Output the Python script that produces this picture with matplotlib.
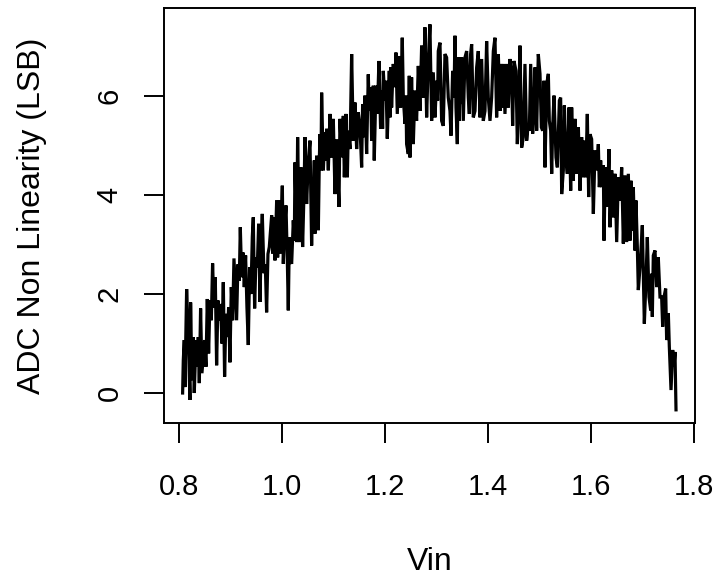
import matplotlib
matplotlib.use("Agg")
import matplotlib.pyplot as plt

plt.rcParams['font.family'] = ['Liberation Sans', 'DejaVu Sans']

# Vin values (V), left to right
vin = [
    0.8071, 0.8084, 0.8103, 0.8116, 0.8149, 0.8181, 0.8213, 0.8226, 0.8252, 0.8278,
    0.8297, 0.8330, 0.8356, 0.8375, 0.8395, 0.8420, 0.8446, 0.8472, 0.8498, 0.8524,
    0.8550, 0.8576, 0.8602, 0.8628, 0.8653, 0.8679, 0.8705, 0.8731, 0.8757, 0.8783,
    0.8809, 0.8835, 0.8861, 0.8886, 0.8912, 0.8938, 0.8964, 0.8990, 0.9016, 0.9042,
    0.9068, 0.9094, 0.9119, 0.9145, 0.9171, 0.9191, 0.9217, 0.9243, 0.9268, 0.9294,
    0.9320, 0.9346, 0.9372, 0.9398, 0.9424, 0.9443, 0.9469, 0.9495, 0.9521, 0.9547,
    0.9573, 0.9598, 0.9618, 0.9650, 0.9676, 0.9702, 0.9728, 0.9754,
    0.9800, 0.9819, 0.9845, 0.9864, 0.9897, 0.9916, 0.9935, 0.9961, 0.9987, 1.0007,
    1.0026, 1.0052, 1.0078, 1.0104, 1.0123, 1.0143, 1.0168, 1.0188, 1.0220, 1.0240,
    1.0253, 1.0285, 1.0304, 1.0337, 1.0369, 1.0401, 1.0427, 1.0447, 1.0479, 1.0512,
    1.0544, 1.0576, 1.0596, 1.0609, 1.0628, 1.0641, 1.0673, 1.0706, 1.0725, 1.0738,
    1.0757, 1.0770, 1.0803, 1.0835, 1.0855, 1.0867, 1.0900, 1.0932, 1.0965, 1.0997,
    1.1029, 1.1062, 1.1107, 1.1126, 1.1159, 1.1191, 1.1211, 1.1243, 1.1269, 1.1288,
    1.1321, 1.1353, 1.1385, 1.1418, 1.1450, 1.1482,
    1.1514, 1.1547, 1.1566, 1.1592, 1.1611, 1.1644, 1.1676, 1.1695, 1.1721, 1.1741,
    1.1773, 1.1792, 1.1825, 1.1851, 1.1883, 1.1915, 1.1935, 1.1954, 1.1967, 1.2000,
    1.2019, 1.2045, 1.2084, 1.2097, 1.2110, 1.2129, 1.2161, 1.2194, 1.2213, 1.2239,
    1.2278, 1.2304, 1.2336, 1.2356, 1.2388, 1.2407, 1.2420, 1.2453, 1.2472, 1.2485,
    1.2517, 1.2550, 1.2582, 1.2614, 1.2647, 1.2679, 1.2712, 1.2744, 1.2776, 1.2809,
    1.2841, 1.2873, 1.2906, 1.2938, 1.2971, 1.3003, 1.3022, 1.3035, 1.3068, 1.3100,
    1.3132, 1.3165, 1.3197, 1.3229,
    1.3262, 1.3282, 1.3314, 1.3340, 1.3359, 1.3379, 1.3405, 1.3424, 1.3443, 1.3456,
    1.3476, 1.3489, 1.3521, 1.3553, 1.3586, 1.3618, 1.3638, 1.3663, 1.3683, 1.3715,
    1.3748, 1.3780, 1.3812, 1.3845, 1.3877, 1.3909, 1.3942, 1.3974, 1.4006, 1.4039,
    1.4071, 1.4104, 1.4136, 1.4168, 1.4201, 1.4233, 1.4246, 1.4265, 1.4298, 1.4330,
    1.4362, 1.4395, 1.4427, 1.4460, 1.4479, 1.4505, 1.4544, 1.4570, 1.4595, 1.4621,
    1.4654, 1.4686, 1.4718, 1.4751, 1.4783, 1.4803, 1.4829, 1.4867, 1.4893, 1.4913,
    1.4945, 1.4977,
    1.5010, 1.5036, 1.5062, 1.5088, 1.5107, 1.5140, 1.5172, 1.5191, 1.5217, 1.5237,
    1.5256, 1.5282, 1.5321, 1.5347, 1.5386, 1.5411, 1.5431, 1.5463, 1.5483, 1.5515,
    1.5541, 1.5573, 1.5606, 1.5625, 1.5657, 1.5690, 1.5722, 1.5755, 1.5787, 1.5819,
    1.5839, 1.5865, 1.5897, 1.5929, 1.5955, 1.5981, 1.6013, 1.6046, 1.6078, 1.6110,
    1.6143, 1.6162, 1.6188, 1.6214, 1.6240, 1.6253, 1.6279, 1.6318, 1.6350, 1.6369,
    1.6402, 1.6434, 1.6466, 1.6499, 1.6531, 1.6564, 1.6596, 1.6628, 1.6661, 1.6693,
    1.6725,
    1.6757, 1.6777, 1.6796, 1.6822, 1.6854, 1.6874, 1.6900, 1.6919, 1.6952, 1.6997,
    1.7036, 1.7068, 1.7094, 1.7126, 1.7159, 1.7178, 1.7191, 1.7210, 1.7243, 1.7275,
    1.7307, 1.7340, 1.7372, 1.7392, 1.7418, 1.7450, 1.7469, 1.7502, 1.7521, 1.7554,
    1.7586, 1.7612, 1.7631, 1.7651,
]

# ADC non linearity (LSB) at each Vin above
dnl = [
    0.00, 0.66, 1.07, 0.12, 2.10, 1.13, -0.14, 1.83, 0.26, 1.13,
    0.00, 1.07, 0.53, 1.13, 0.20, 1.71, 0.40, 0.73, 1.07, 0.53,
    1.90, 0.80, 1.87, 1.47, 2.62, 1.73, 2.34, 0.56, 1.87, 1.47,
    1.80, 1.00, 2.24, 0.33, 1.60, 1.13, 1.73, 0.62, 2.14, 1.47,
    2.72, 2.07, 1.47, 2.60, 2.27, 3.35, 2.34, 2.84, 2.14, 2.78,
    1.73, 0.97, 2.54, 2.00, 3.15, 3.55, 1.71, 2.74, 2.54, 3.42,
    1.84, 3.14, 3.62, 2.42, 2.60, 1.63, 2.81, 2.95,
    3.59, 2.82, 3.55, 2.68, 3.89, 2.74, 3.89, 2.82, 3.55, 4.19,
    2.61, 3.35, 3.79, 2.68, 1.67, 3.15, 2.68, 2.61, 3.49, 3.08,
    4.66, 3.05, 5.17, 3.05, 4.56, 2.95, 4.02, 5.17, 3.82, 4.70,
    5.10, 2.98, 4.16, 3.89, 4.70, 3.22, 4.80, 3.29, 4.70, 5.23,
    4.50, 6.07, 4.50, 5.27, 4.70, 5.34, 4.50, 5.64, 4.76, 5.54,
    4.02, 5.13, 3.76, 5.54, 4.76, 5.60, 4.36, 5.64, 4.36, 5.30,
    4.93, 6.85, 5.10, 5.87, 4.93, 5.67,
    5.40, 4.56, 5.84, 5.17, 6.01, 4.83, 6.44, 5.70, 6.18, 5.10,
    6.21, 4.70, 6.21, 5.64, 6.71, 5.34, 6.11, 5.34, 6.51, 5.91,
    6.31, 5.14, 6.51, 5.57, 6.58, 5.77, 6.65, 6.18, 6.88, 5.64,
    6.81, 5.77, 7.18, 5.97, 5.44, 6.01, 5.03, 4.83, 6.41, 4.76,
    6.38, 5.03, 6.11, 5.50, 6.61, 5.70, 7.02, 5.97, 7.39, 5.57,
    6.71, 7.45, 5.50, 6.48, 5.57, 6.31, 5.91, 6.91, 7.08, 5.50,
    5.40, 6.85, 6.78, 5.97,
    5.70, 5.20, 6.51, 5.97, 7.22, 5.77, 5.03, 6.78, 5.50, 6.78,
    5.84, 6.78, 5.50, 6.78, 6.91, 5.97, 5.64, 6.85, 7.05, 5.57,
    5.70, 6.58, 6.91, 5.57, 6.75, 5.50, 5.70, 7.11, 5.97, 5.50,
    5.97, 6.91, 7.18, 5.57, 6.85, 5.70, 6.65, 5.77, 6.65, 5.64,
    6.65, 5.77, 6.75, 6.38, 5.40, 6.71, 6.51, 5.03, 5.77, 7.02,
    4.96, 5.17, 6.65, 5.10, 5.44, 5.30, 6.65, 5.24, 5.64, 6.58,
    5.30, 6.85,
    6.45, 5.37, 5.30, 6.31, 4.56, 6.24, 6.45, 5.50, 5.30, 4.43,
    5.37, 6.01, 4.76, 4.56, 5.91, 5.97, 4.02, 4.50, 5.81, 4.70,
    4.43, 5.77, 4.09, 5.77, 4.29, 5.54, 4.43, 5.37, 4.09, 5.17,
    4.36, 5.10, 4.36, 5.64, 3.96, 5.23, 5.13, 3.62, 4.90, 4.50,
    5.03, 4.16, 4.70, 4.16, 4.60, 3.08, 4.56, 3.76, 4.93, 3.35,
    4.50, 3.55, 4.43, 3.05, 4.36, 3.89, 4.56, 3.02, 4.40, 3.05,
    4.43,
    3.08, 4.29, 3.28, 4.16, 2.88, 3.89, 2.95, 2.08, 2.55, 3.39,
    1.40, 2.28, 3.15, 1.94, 1.67, 2.41, 1.54, 2.78, 2.88, 2.14,
    2.74, 1.94, 1.94, 1.34, 1.94, 2.11, 1.07, 1.61, 0.94, 0.06,
    0.87, 0.53, 0.83, -0.34,
]

xticks = [0.8, 1.0, 1.2, 1.4, 1.6, 1.8]
xtick_labels = ["0.8", "1.0", "1.2", "1.4", "1.6", "1.8"]
yticks = [0, 2, 4, 6]
ytick_labels = ["0", "2", "4", "6"]

fig = plt.figure(figsize=(7.2, 5.77), dpi=100)
ax = fig.add_axes([0.2271, 0.2669, 0.7382, 0.7192])

ax.plot(vin, dnl, color="black", lw=2.3, solid_joinstyle="miter")

ax.set_xlim(0.770, 1.802)
ax.set_ylim(-0.606, 7.78)

ax.set_xticks(xticks, labels=xtick_labels)
ax.set_yticks(yticks, labels=ytick_labels, rotation=90,
              rotation_mode="anchor", ha="center", va="baseline")
ax.tick_params(direction="out", length=14.4, width=1.4, labelsize=21)
ax.tick_params(axis="x", pad=21.6)
ax.tick_params(axis="y", pad=18.7)
for s in ax.spines.values():
    s.set_linewidth(1.4)

ax.set_xlabel("Vin", fontsize=23, va="baseline")
ax.xaxis.set_label_coords(0.5, (423 - 570) / 415)
ax.set_ylabel("ADC Non Linearity (LSB)", fontsize=23, rotation=90,
              rotation_mode="anchor", ha="center", va="baseline")
ax.yaxis.set_label_coords((40 - 163.5) / 531.5, 0.5)

fig.savefig("out.png", dpi=100)
